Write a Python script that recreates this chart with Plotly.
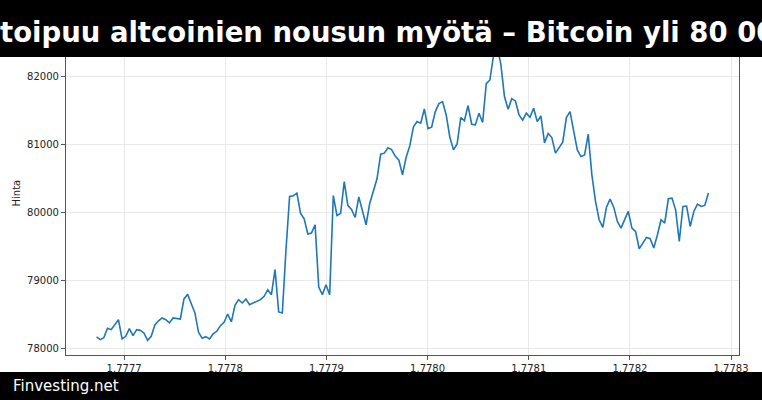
import plotly.graph_objects as go

# ---------------- data ----------------
t0_seconds = 1777672800          # first sample (unix seconds)
step_seconds = 3600              # hourly samples
hours = list(range(169))
price = [
    78172, 78132, 78162, 78299, 78279, 78350, 78426, 78143, 78181, 78294,
    78191, 78279, 78269, 78231, 78122, 78181, 78348, 78410, 78451, 78426,
    78378, 78451, 78440, 78436, 78731, 78799, 78660, 78525, 78240, 78152,
    78176, 78143, 78216, 78255, 78338, 78387, 78510, 78393, 78637, 78721,
    78672, 78731, 78647, 78672, 78706, 78721, 78770, 78868, 78794, 79162,
    78540, 78525, 79450, 80240, 80250, 80290, 79995, 79912, 79687, 79701,
    79824, 78907, 78794, 78941, 78794, 80254, 79960, 79990, 80460, 80107,
    80049, 79931, 80235, 80044, 79824, 80137, 80320, 80500, 80863, 80878,
    80956, 80932, 80834, 80775, 80559, 80819, 80985, 81265, 81343, 81319,
    81529, 81240, 81260, 81490, 81608, 81637, 81441, 81113, 80926, 81015,
    81402, 81358, 81579, 81304, 81294, 81466, 81329, 81902, 81956, 82320,
    82446, 82190, 81711, 81525, 81681, 81647, 81441, 81363, 81466, 81407,
    81539, 81343, 81426, 81029, 81167, 81108, 80878, 80960, 81039, 81402,
    81490, 81206, 80926, 80828, 80853, 81157, 80559, 80167, 79897, 79784,
    80083, 80201, 80083, 79873, 79775, 79900, 80020, 79775, 79725, 79471,
    79559, 79637, 79618, 79481, 79676, 79897, 79848, 80206, 80216, 80044,
    79578, 80093, 80099, 79799, 80020, 80128, 80093, 80108, 80290,
]
x_tick_labels = ["1.7777", "1.7778", "1.7779", "1.7780", "1.7781", "1.7782", "1.7783"]
y_tick_values = [78000, 79000, 80000, 81000, 82000]

title_text = "toipuu altcoinien nousun myötä – Bitcoin yli 80 000"
footer_text = "Finvesting.net"
y_label = "Hinta"

# x in units of 1e9 seconds (as the axis shows)
x_vals = [(t0_seconds + h * step_seconds) / 1e9 for h in hours]

# matplotlib-like 5% auto margins
def padded(lo, hi, frac=0.05):
    p = (hi - lo) * frac
    return [lo - p, hi + p]

x_range = padded(min(x_vals), max(x_vals))
y_range = padded(min(price), max(price))

# ---------------- layout geometry ----------------
W, H = 762, 400
ML, MR, MT, MB = 66, 23, 32, 45
PW, PH = W - ML - MR, H - MT - MB

def px_x(px):
    return (px - ML) / PW

def px_y(py):
    return (H - MB - py) / PH

spine = "#555555"
font_family = "DejaVu Sans"

fig = go.Figure()
fig.add_trace(go.Scatter(
    x=x_vals, y=price, mode="lines",
    line=dict(color="#1f77b4", width=1.6),
    hoverinfo="skip", showlegend=False,
))

fig.update_layout(
    width=W, height=H,
    margin=dict(l=ML, r=MR, t=MT, b=MB, pad=0),
    paper_bgcolor="white", plot_bgcolor="white",
    font=dict(family=font_family, size=10, color="#222222"),
    showlegend=False,
)
fig.update_xaxes(
    range=x_range,
    tickmode="array",
    tickvals=[float(s) for s in x_tick_labels],
    ticktext=x_tick_labels,
    ticks="outside", ticklen=4, tickwidth=1, tickcolor=spine,
    showline=True, linecolor=spine, linewidth=1.2, mirror=True,
    showgrid=True, gridcolor="#e8e8e8", gridwidth=0.8,
    zeroline=False,
    tickfont=dict(family=font_family, size=10, color="#222222"),
)
fig.update_yaxes(
    range=y_range,
    tickmode="array",
    tickvals=y_tick_values,
    ticktext=[str(v) for v in y_tick_values],
    ticks="outside", ticklen=4, tickwidth=1, tickcolor=spine,
    showline=True, linecolor=spine, linewidth=1.2, mirror=True,
    showgrid=True, gridcolor="#e8e8e8", gridwidth=0.8,
    zeroline=False,
    tickfont=dict(family=font_family, size=10, color="#222222"),
)

# black header & footer bars
fig.add_shape(type="rect", xref="paper", yref="paper",
              x0=px_x(-5), x1=px_x(W + 5), y0=px_y(57), y1=px_y(-5),
              fillcolor="black", line=dict(width=0), layer="above")
fig.add_shape(type="rect", xref="paper", yref="paper",
              x0=px_x(-5), x1=px_x(W + 5), y0=px_y(H + 5), y1=px_y(372),
              fillcolor="black", line=dict(width=0), layer="above")

fig.add_annotation(
    text=title_text, xref="paper", yref="paper",
    x=px_x(-2), y=px_y(32), xanchor="left", yanchor="middle",
    showarrow=False,
    font=dict(family=font_family, size=27.5, color="white", weight="bold"),
)
fig.add_annotation(
    text=footer_text, xref="paper", yref="paper",
    x=px_x(11), y=px_y(386), xanchor="left", yanchor="middle",
    showarrow=False,
    font=dict(family=font_family, size=15, color="white"),
)
fig.add_annotation(
    text=y_label, xref="paper", yref="paper",
    x=px_x(16), y=px_y((MT + H - MB) / 2), xanchor="center", yanchor="middle",
    textangle=-90, showarrow=False,
    font=dict(family=font_family, size=10, color="#222222"),
)

fig.write_html(
    "out.html",
    config={"displayModeBar": False},
    post_script="document.body.style.margin='0';document.body.style.overflow='hidden';",
)
